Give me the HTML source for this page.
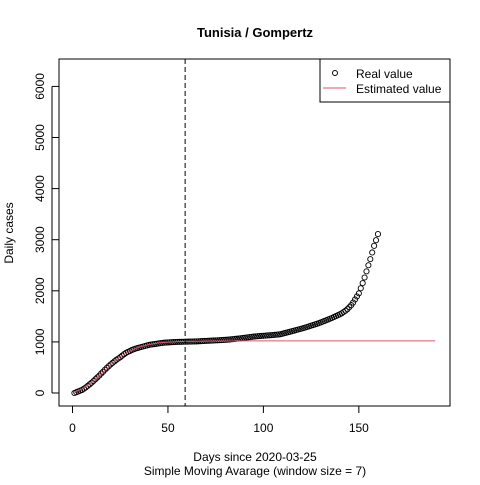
<!DOCTYPE html>
<html><head><meta charset="utf-8"><style>
body{margin:0;background:#fff}
svg text{font-family:"Liberation Sans",Arial,sans-serif;fill:#000}
</style></head><body>
<svg id="c" width="480" height="480">
<text x="255" y="37" font-size="13" font-weight="bold" text-anchor="middle">Tunisia / Gompertz</text>
<rect x="59" y="59" width="391" height="347" fill="none" stroke="#000"/>
<g id="xa"></g>
<g id="ya"></g>
<text x="255" y="461" font-size="12" text-anchor="middle">Days since 2020-03-25</text>
<text x="255" y="475" font-size="12" text-anchor="middle">Simple Moving Avarage (window size = 7)</text>
<text transform="translate(13,233) rotate(-90)" font-size="12" text-anchor="middle">Daily cases</text>
<g id="marks"></g>
<g>
<rect x="320" y="59" width="130" height="43" fill="#fff" stroke="#000"/>
<circle cx="335" cy="73" r="2.5" fill="none" stroke="#000"/>
<text x="356" y="78" font-size="12">Real value</text>
<line x1="323" y1="88" x2="346" y2="88" stroke="#DF536B"/>
<text x="356" y="93" font-size="12">Estimated value</text>
</g>
</svg>
<script>
const realValues=[0,15,30,45,60,85,110,140,170,200,
235,270,305,340,380,415,455,490,525,560,
590,620,650,675,700,730,760,785,805,820,
840,855,868,880,890,900,910,920,930,940,
947,953,958,963,970,975,980,984,987,990,
992,994,996,998,1000,1001,1002,1003,1004,1005,
1006,1007,1008,1009,1010,1012,1014,1016,1018,1020,
1022,1024,1026,1028,1030,1032,1034,1036,1038,1040,
1043,1046,1050,1054,1058,1062,1066,1070,1075,1080,
1085,1090,1095,1100,1104,1108,1112,1115,1118,1120,
1123,1126,1129,1132,1135,1138,1142,1146,1150,1160,
1170,1180,1190,1200,1210,1220,1230,1240,1250,1260,
1270,1282,1294,1306,1318,1330,1342,1354,1366,1380,
1395,1410,1425,1440,1455,1470,1488,1505,1522,1540,
1560,1585,1610,1640,1680,1720,1770,1830,1890,1950,
2050,2150,2260,2380,2500,2620,2750,2880,2990,3110];
const estDays=[1,5,10,15,20,25,30,35,40,45,50,55,60,70,80,90,100,120,150,190];
const estValues=[20,80,200,370,550,710,820,900,950,980,995,1005,1010,1015,1018,1020,1020,1020,1020,1020];
const xTicks=[0,50,100,150];
const yTicks=[0,1000,2000,3000,4000,5000,6000];
const cutoffDay=59;
const NS="http://www.w3.org/2000/svg";
const X=d=>72.5+d*1.909;
const Y=v=>393-v*0.0511;
function mk(t,a,p){const e=document.createElementNS(NS,t);for(const k in a)e.setAttribute(k,a[k]);p.appendChild(e);return e;}
const xa=document.getElementById('xa'),ya=document.getElementById('ya'),m=document.getElementById('marks');
mk('line',{x1:X(xTicks[0]),x2:X(xTicks[xTicks.length-1]),y1:406,y2:406,stroke:'#000'},xa);
xTicks.forEach(t=>{
 const l=mk('line',{x1:X(t),x2:X(t),y1:406,y2:413,stroke:'#000'},xa);
 
 
 const tx=mk('text',{x:X(t),y:432,'font-size':12,'text-anchor':'middle'},xa);tx.textContent=t;
 
 
});
yTicks.forEach(t=>{
 const l=mk('line',{x1:52,x2:59,y1:Y(t),y2:Y(t),stroke:'#000'},ya);
 
 
 const tx=mk('text',{transform:`translate(44,${Y(t)}) rotate(-90)`,'font-size':12,'text-anchor':'middle'},ya);tx.textContent=t;
 
 
});
mk('line',{x1:52,x2:52,y1:Y(yTicks[0]),y2:Y(yTicks[yTicks.length-1]),stroke:'#000'},ya);
realValues.forEach((v,i)=>{
 const c=mk('circle',{cx:X(i+1),cy:Y(v),r:2.6,fill:'none',stroke:'#000','stroke-width':0.9},m);
 
 
});
const p=mk('polyline',{points:estDays.map((d,i)=>X(d)+','+Y(estValues[i])).join(' '),fill:'none',stroke:'#DF536B','stroke-width':1},m);


const dl=mk('line',{x1:X(cutoffDay),x2:X(cutoffDay),y1:59,y2:406,stroke:'#000','stroke-dasharray':'5,3'},m);


</script>
</body></html>
